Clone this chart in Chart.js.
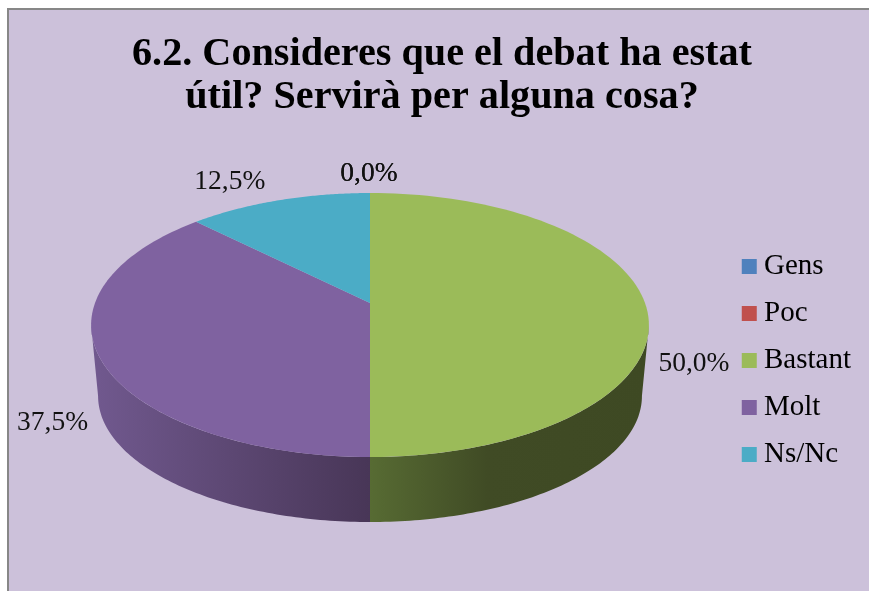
<!DOCTYPE html>
<html>
<head>
<meta charset="utf-8">
<title>6.2</title>
<script src="https://cdn.jsdelivr.net/npm/chart.js@4"></script>
<style>
  html, body { margin: 0; background: #fff; overflow: hidden; }
  #frame {
    position: absolute; left: 7px; top: 8px; width: 860px; height: 581px;
    border-left: 2px solid #878787; border-top: 2px solid #878787;
    background: #ccc1da;
  }
  canvas { display: block; }
</style>
</head>
<body>
<div id="frame"><canvas id="chart" width="860" height="581"></canvas></div>
<script>
const categories = ["Gens", "Poc", "Bastant", "Molt", "Ns/Nc"];
const percentages = [0, 0, 50, 37.5, 12.5];
const titleLines = ["6.2. Consideres que el debat ha estat", "útil? Servirà per alguna cosa?"];

const sliceColors = ["#4f81bd", "#c0504d", "#9bbb59", "#7f62a0", "#4bacc6"];
// side wall shading, left to right
const wallStops = [
  null,
  null,
  [[0, "#576b33"], [0.42, "#404b25"], [1, "#3e4923"]],
  [[0, "#71598f"], [1, "#483657"]],
  [[0, "#3a8296"], [1, "#2c6474"]]
];
// where each percent label sits relative to the rim point of its slice
const labelNudge = [[-1, -19], [-1, -19], [49, 61], [-46, 67], [-49, -19]];

const serif = "'Liberation Serif', serif";

// the pie is tilted with perspective, so the centre is not the middle of the ellipse
const tilt = 0.1667;
const pieShift = -7;
const topRim = { rx: 1, ry: 0.4666, dy: 0 };
const bottomRim = { rx: 0.975, ry: 0.4455, dy: 72 };
const frontFrom = Math.asin(tilt);

function project(arc, angle, rim) {
  const w = 1 / (1 - tilt * Math.sin(angle));
  return {
    x: arc.x + pieShift + arc.outerRadius * rim.rx * Math.cos(angle) * w,
    y: arc.y + rim.dy + arc.outerRadius * rim.ry * Math.sin(angle) * w
  };
}

function rimPath(ctx, arc, from, to, rim) {
  const steps = 90;
  for (let i = 0; i <= steps; i++) {
    const p = project(arc, from + (to - from) * i / steps, rim);
    ctx.lineTo(p.x, p.y);
  }
}

const pie3d = {
  id: "pie3d",
  beforeDatasetDraw(chart) {
    const ctx = chart.ctx;
    const arcs = chart.getDatasetMeta(0).data;
    ctx.save();

    arcs.forEach((arc, i) => {
      const from = Math.max(arc.startAngle, frontFrom);
      const to = Math.min(arc.endAngle, Math.PI - frontFrom);
      if (to <= from || !wallStops[i]) return;
      const a = project(arc, from, topRim).x;
      const b = project(arc, to, topRim).x;
      const grad = ctx.createLinearGradient(Math.min(a, b), 0, Math.max(a, b), 0);
      wallStops[i].forEach((s) => grad.addColorStop(s[0], s[1]));
      ctx.beginPath();
      rimPath(ctx, arc, from, to, topRim);
      rimPath(ctx, arc, to, from, bottomRim);
      ctx.closePath();
      ctx.fillStyle = grad;
      ctx.fill();
    });

    arcs.forEach((arc, i) => {
      if (arc.endAngle - arc.startAngle <= 0) return;
      const apex = project(arc, 0, { rx: 0, ry: 0, dy: 0 });
      ctx.beginPath();
      ctx.moveTo(apex.x, apex.y);
      rimPath(ctx, arc, arc.startAngle, arc.endAngle, topRim);
      ctx.closePath();
      ctx.fillStyle = sliceColors[i];
      ctx.fill();
    });

    ctx.restore();
    return false;
  },
  afterDatasetsDraw(chart) {
    const ctx = chart.ctx;
    const arcs = chart.getDatasetMeta(0).data;
    ctx.save();
    ctx.font = "27.5px " + serif;
    ctx.fillStyle = "#111";
    ctx.textAlign = "center";
    ctx.textBaseline = "middle";
    arcs.forEach((arc, i) => {
      const p = project(arc, (arc.startAngle + arc.endAngle) / 2, topRim);
      const text = percentages[i].toFixed(1).replace(".", ",") + "%";
      ctx.fillText(text, p.x + labelNudge[i][0], p.y + labelNudge[i][1]);
    });
    ctx.restore();
  }
};

new Chart(document.getElementById("chart"), {
  type: "pie",
  data: {
    labels: categories,
    datasets: [{
      data: percentages,
      backgroundColor: sliceColors,
      borderWidth: 0,
      radius: 275
    }]
  },
  plugins: [pie3d],
  options: {
    responsive: false,
    animation: false,
    layout: { padding: { left: 14, right: 8, top: 0, bottom: 104 } },
    plugins: {
      tooltip: { enabled: false },
      title: {
        display: true,
        text: titleLines,
        color: "#000",
        font: { family: serif, size: 40.2, weight: "bold", lineHeight: 1.07 },
        padding: { top: 23, bottom: 0 }
      },
      legend: {
        position: "right",
        align: "end",
        labels: {
          color: "#111",
          font: { family: serif, size: 29 },
          boxWidth: 0.5,
          boxHeight: 0.5,
          padding: 18,
          // wide swatch border keeps the text close to the square
          generateLabels() {
            return categories.map((text, i) => ({
              text,
              index: i,
              fillStyle: sliceColors[i],
              strokeStyle: sliceColors[i],
              lineWidth: 14.5,
              hidden: false
            }));
          }
        }
      }
    }
  }
});
</script>
</body>
</html>
